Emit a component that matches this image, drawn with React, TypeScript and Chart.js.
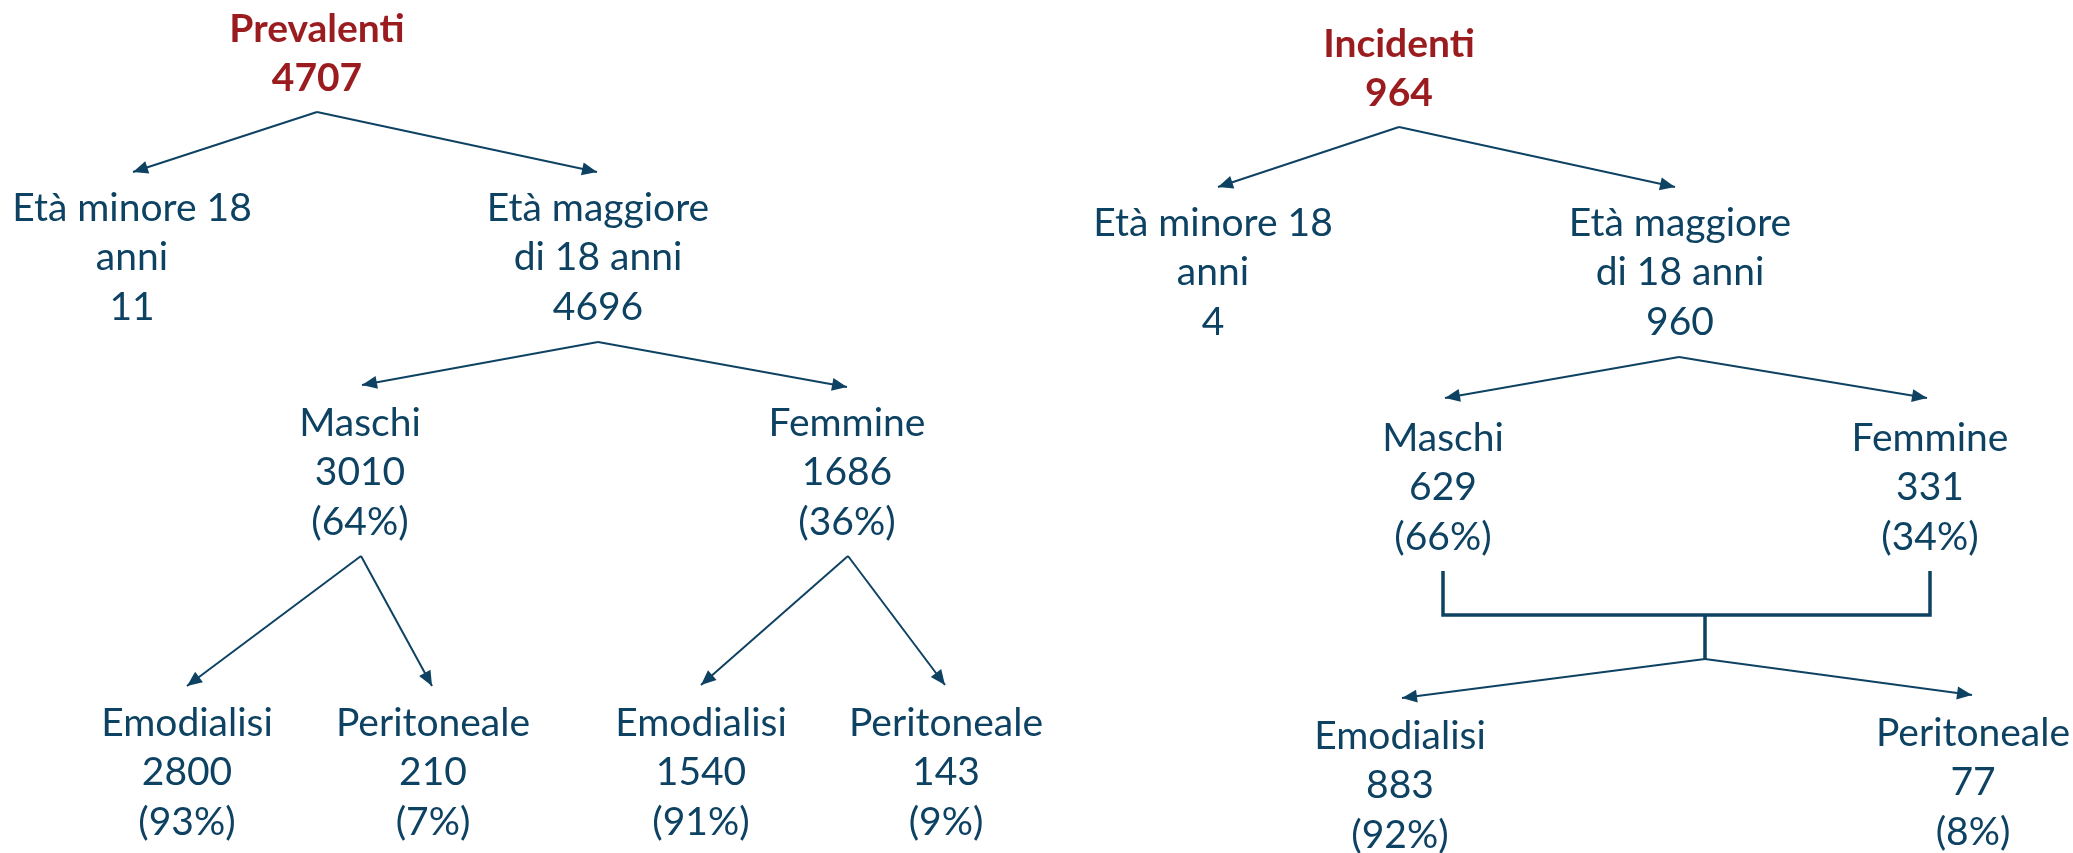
import React, { useEffect, useRef } from "react";
import { Chart, registerables } from "chart.js";

Chart.register(...registerables);

// ---------- DATA ----------
const treeTitles = ["Prevalenti", "Incidenti"];
const treeTotals = [4707, 964];
const ageLabels = [["Età minore 18", "anni"], ["Età maggiore", "di 18 anni"]];
const prevAgeCounts = [11, 4696];
const incAgeCounts = [4, 960];
const sexLabels = ["Maschi", "Femmine"];
const prevSexCounts = [3010, 1686];
const prevSexPct = [64, 36];
const incSexCounts = [629, 331];
const incSexPct = [66, 34];
const dialysisLabels = ["Emodialisi", "Peritoneale"];
const prevMaleDialysis = [2800, 210];
const prevMaleDialysisPct = [93, 7];
const prevFemaleDialysis = [1540, 143];
const prevFemaleDialysisPct = [91, 9];
const incDialysis = [883, 77];
const incDialysisPct = [92, 8];

// ---------- LAYOUT (diagram coordinates, not data) ----------
const W = 2073;
const H = 853;
const BLUE = "#0E4263";
const RED = "#9A1C1F";
const FONT = "Lato, 'Open Sans', sans-serif";
const FONT_SIZE = 39;
const LINE_GAP = 49.5;

type TextNode = { x: number; y: number; lines: string[]; bold?: boolean; color: string };

const pct = (p: number) => `(${p}%)`;

const textNodes: TextNode[] = [
  // Prevalenti tree
  { x: 317, y: 29, lines: [treeTitles[0], String(treeTotals[0])], bold: true, color: RED },
  { x: 132, y: 208, lines: [...ageLabels[0], String(prevAgeCounts[0])], color: BLUE },
  { x: 598, y: 208, lines: [...ageLabels[1], String(prevAgeCounts[1])], color: BLUE },
  { x: 360, y: 423, lines: [sexLabels[0], String(prevSexCounts[0]), pct(prevSexPct[0])], color: BLUE },
  { x: 847, y: 423, lines: [sexLabels[1], String(prevSexCounts[1]), pct(prevSexPct[1])], color: BLUE },
  { x: 187, y: 723, lines: [dialysisLabels[0], String(prevMaleDialysis[0]), pct(prevMaleDialysisPct[0])], color: BLUE },
  { x: 433, y: 723, lines: [dialysisLabels[1], String(prevMaleDialysis[1]), pct(prevMaleDialysisPct[1])], color: BLUE },
  { x: 701, y: 723, lines: [dialysisLabels[0], String(prevFemaleDialysis[0]), pct(prevFemaleDialysisPct[0])], color: BLUE },
  { x: 946, y: 723, lines: [dialysisLabels[1], String(prevFemaleDialysis[1]), pct(prevFemaleDialysisPct[1])], color: BLUE },
  // Incidenti tree
  { x: 1399, y: 44, lines: [treeTitles[1], String(treeTotals[1])], bold: true, color: RED },
  { x: 1213, y: 223, lines: [...ageLabels[0], String(incAgeCounts[0])], color: BLUE },
  { x: 1680, y: 223, lines: [...ageLabels[1], String(incAgeCounts[1])], color: BLUE },
  { x: 1443, y: 438, lines: [sexLabels[0], String(incSexCounts[0]), pct(incSexPct[0])], color: BLUE },
  { x: 1930, y: 438, lines: [sexLabels[1], String(incSexCounts[1]), pct(incSexPct[1])], color: BLUE },
  { x: 1400, y: 736, lines: [dialysisLabels[0], String(incDialysis[0]), pct(incDialysisPct[0])], color: BLUE },
  { x: 1973, y: 733, lines: [dialysisLabels[1], String(incDialysis[1]), pct(incDialysisPct[1])], color: BLUE },
];

type Edge = { pts: [number, number][]; arrow: boolean; width: number };

const edges: Edge[] = [
  // Prevalenti
  { pts: [[317, 112], [133, 172]], arrow: true, width: 2 },
  { pts: [[317, 112], [597, 172]], arrow: true, width: 2 },
  { pts: [[598, 342], [362, 385]], arrow: true, width: 2 },
  { pts: [[598, 342], [847, 387]], arrow: true, width: 2 },
  { pts: [[361, 556], [187, 686]], arrow: true, width: 2 },
  { pts: [[361, 556], [432, 686]], arrow: true, width: 2 },
  { pts: [[848, 556], [701, 685]], arrow: true, width: 2 },
  { pts: [[848, 556], [945, 685]], arrow: true, width: 2 },
  // Incidenti
  { pts: [[1399, 127], [1218, 187]], arrow: true, width: 2 },
  { pts: [[1399, 127], [1675, 187]], arrow: true, width: 2 },
  { pts: [[1679, 357], [1445, 398]], arrow: true, width: 2 },
  { pts: [[1679, 357], [1927, 398]], arrow: true, width: 2 },
  { pts: [[1443, 571], [1443, 615], [1930, 615], [1930, 571]], arrow: false, width: 3.5 },
  { pts: [[1705, 615], [1705, 659]], arrow: false, width: 3.5 },
  { pts: [[1705, 659], [1402, 698]], arrow: true, width: 2 },
  { pts: [[1705, 659], [1972, 695]], arrow: true, width: 2 },
];

const ARROW_LEN = 15;
const ARROW_HALF = 6.5;

const diagramPlugin = {
  id: "diagramPlugin",
  afterDatasetsDraw(chart: any) {
    const { ctx, scales } = chart;
    const xs = scales.x;
    const ys = scales.y;
    ctx.save();
    // arrow heads
    edges.forEach((e) => {
      if (!e.arrow) return;
      const n = e.pts.length;
      const [x1, y1] = e.pts[n - 2];
      const [x2, y2] = e.pts[n - 1];
      const px1 = xs.getPixelForValue(x1), py1 = ys.getPixelForValue(y1);
      const px2 = xs.getPixelForValue(x2), py2 = ys.getPixelForValue(y2);
      const ang = Math.atan2(py2 - py1, px2 - px1);
      const bx = px2 - ARROW_LEN * Math.cos(ang);
      const by = py2 - ARROW_LEN * Math.sin(ang);
      ctx.beginPath();
      ctx.moveTo(px2, py2);
      ctx.lineTo(bx + ARROW_HALF * Math.sin(ang), by - ARROW_HALF * Math.cos(ang));
      ctx.lineTo(bx - ARROW_HALF * Math.sin(ang), by + ARROW_HALF * Math.cos(ang));
      ctx.closePath();
      ctx.fillStyle = BLUE;
      ctx.fill();
    });
    // texts
    ctx.textAlign = "center";
    ctx.textBaseline = "middle";
    textNodes.forEach((t) => {
      ctx.font = `${t.bold ? "bold " : ""}${FONT_SIZE}px ${FONT}`;
      ctx.fillStyle = t.color;
      t.lines.forEach((line, i) => {
        ctx.fillText(line, xs.getPixelForValue(t.x), ys.getPixelForValue(t.y + i * LINE_GAP));
      });
    });
    ctx.restore();
  },
};

export default function App() {
  const ref = useRef<HTMLCanvasElement | null>(null);
  useEffect(() => {
    document.body.style.margin = "0";
    const canvas = ref.current;
    if (!canvas) return;
    const datasets = edges.map((e) => ({
      data: e.pts.map(([x, y]) => ({ x, y })),
      showLine: true,
      borderColor: BLUE,
      borderWidth: e.width,
      pointRadius: 0,
      fill: false,
      tension: 0,
      borderCapStyle: "butt" as const,
      borderJoinStyle: "miter" as const,
    }));
    const chart = new Chart(canvas, {
      type: "scatter",
      data: { datasets },
      options: {
        animation: false,
        responsive: false,
        maintainAspectRatio: false,
        layout: { padding: 0 },
        plugins: { legend: { display: false }, tooltip: { enabled: false }, title: { display: false } },
        events: [],
        scales: {
          x: { type: "linear", min: 0, max: W, display: false },
          y: { type: "linear", min: 0, max: H, reverse: true, display: false },
        },
      },
      plugins: [diagramPlugin],
    });
    return () => chart.destroy();
  }, []);
  return (
    <div style={{ width: W, height: H, background: "#fff" }}>
      <canvas ref={ref} width={W} height={H} style={{ display: "block" }} />
    </div>
  );
}
